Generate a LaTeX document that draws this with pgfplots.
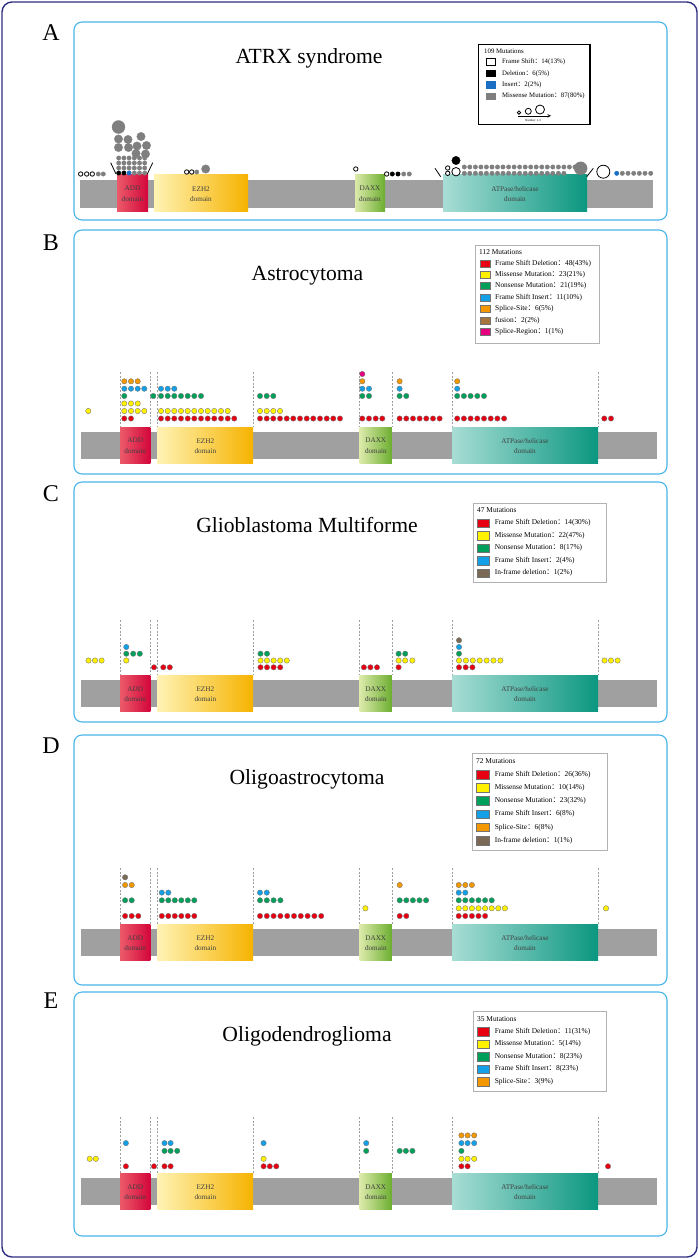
\documentclass[border=0pt]{standalone}
\usepackage{pgfplots}
\pgfplotsset{compat=1.18}
\usepackage{fontspec}
\setmainfont{Liberation Serif}
\newfontfamily\cjk{Noto Sans CJK SC}

\definecolor{cFSD}{HTML}{E60012}
\definecolor{cMIS}{HTML}{FFF100}
\definecolor{cNON}{HTML}{00A05A}
\definecolor{cFSI}{HTML}{14A0E6}
\definecolor{cSS}{HTML}{F39800}
\definecolor{cFUS}{HTML}{A8743E}
\definecolor{cSR}{HTML}{E4007F}
\definecolor{cIFD}{HTML}{7A6A55}
\definecolor{cIns}{HTML}{1A6FC4}
\definecolor{cMs}{HTML}{7F7F7F}
\definecolor{barGray}{HTML}{A0A0A0}
\definecolor{boxBlue}{HTML}{46B4EA}
\definecolor{frameNavy}{HTML}{2E2E82}
\definecolor{addL}{HTML}{EC5A6A}\definecolor{addR}{HTML}{D3063A}
\definecolor{ezhL}{HTML}{FFF3B4}\definecolor{ezhR}{HTML}{F6B300}
\definecolor{daxL}{HTML}{DCEAAA}\definecolor{daxR}{HTML}{6CAE30}
\definecolor{atpL}{HTML}{A8DDD5}\definecolor{atpM}{HTML}{1AAB98}\definecolor{atpR}{HTML}{0B9780}

\newcommand\cl{{\cjk ：}}
\newcommand\legfont{\fontsize{7.4}{9}\selectfont}
\newcommand\domfont{\fontsize{7.2}{10.7}\selectfont}
\newcommand\titfont{\fontsize{21.6}{24}\selectfont}
\newcommand\letfont{\fontsize{24}{28}\selectfont}

\begin{document}
\begin{tikzpicture}
\begin{axis}[
  at={(0,0)}, anchor=south west,
  scale only axis, width=699pt, height=1259pt,
  xmin=0, xmax=699, ymin=0, ymax=1259, y dir=reverse,
  hide axis, clip=false,
  scatter/classes={
    fsd={draw=black!55,fill=cFSD}, mis={draw=black!55,fill=cMIS},
    non={draw=black!55,fill=cNON}, fsi={draw=black!55,fill=cFSI},
    ss={draw=black!55,fill=cSS}, fus={draw=black!55,fill=cFUS},
    sr={draw=black!55,fill=cSR}, ifd={draw=black!55,fill=cIFD},
    fs={draw=black,fill=white,line width=0.8pt}, del={draw=black,fill=black},
    ins={draw=cIns,fill=cIns}, ms={draw=cMs,fill=cMs}},
  dots/.style={scatter, only marks, mark=*, scatter src=explicit symbolic,
    mark size=#1, mark options={line width=0.35pt}},
  dots/.default=2.7pt,
  swatch/.style={scatter, only marks, mark=square*, scatter src=explicit symbolic,
    mark size=#1, mark options={xscale=1.45, line width=0.4pt}},
  bar/.style={fill=barGray, draw=none},
  vline/.style={gray!75, line width=0.6pt, dash pattern=on 2pt off 1.6pt},
  panel/.style={draw=boxBlue, line width=1.1pt, rounded corners=8pt},
  legbox/.style={draw=black!30, line width=0.8pt, fill=white},
]

% outer frame and panel boxes
\addplot[draw=frameNavy, line width=1.4pt, rounded corners=10pt] coordinates {(2,2) (697,2) (697,1257) (2,1257)} -- cycle;
\addplot[panel] coordinates {(74,22) (667,22) (667,220) (74,220)} -- cycle;
\addplot[panel] coordinates {(74,230) (667,230) (667,474) (74,474)} -- cycle;
\addplot[panel] coordinates {(74,482) (667,482) (667,722) (74,722)} -- cycle;
\addplot[panel] coordinates {(74,735) (667,735) (667,985) (74,985)} -- cycle;
\addplot[panel] coordinates {(74,992) (667,992) (667,1236) (74,1236)} -- cycle;

\node[font=\letfont, anchor=base] at (axis cs:51,40) {A};
\node[font=\letfont, anchor=base] at (axis cs:51,250) {B};
\node[font=\letfont, anchor=base] at (axis cs:51,501) {C};
\node[font=\letfont, anchor=base] at (axis cs:51,753) {D};
\node[font=\letfont, anchor=base] at (axis cs:51,1008) {E};

%================ A: ATRX syndrome
\node[font=\titfont, anchor=base] at (axis cs:309,63) {ATRX syndrome};
\addplot[bar] coordinates {(80,180) (653,180) (653,207.5) (80,207.5)} -- cycle;
\addplot[draw=none, left color=addL, right color=addR] coordinates {(117,174) (148,174) (148,211) (117,211)} -- cycle;
\addplot[draw=none, left color=ezhL, right color=ezhR] coordinates {(154,174) (248,174) (248,211) (154,211)} -- cycle;
\addplot[draw=none, left color=daxL, right color=daxR] coordinates {(355,174) (385,174) (385,211) (355,211)} -- cycle;
\addplot[draw=none, left color=atpL, middle color=atpM, right color=atpR] coordinates {(443,174) (587,174) (587,211) (443,211)} -- cycle;
\node[font=\domfont, align=center, text=black!75] at (axis cs:132.5,194) {ADD\\domain};
\node[font=\domfont, align=center, text=black!75] at (axis cs:201,194) {EZH2\\domain};
\node[font=\domfont, align=center, text=black!75] at (axis cs:370,194) {DAXX\\domain};
\node[font=\domfont, align=center, text=black!75] at (axis cs:515,194) {ATPase/helicase\\domain};

\addplot[black, line width=0.8pt] coordinates {(110.7,162.7) (116,174)};
\addplot[black, line width=0.8pt] coordinates {(147.3,174) (152.7,162.7)};
\addplot[black, line width=0.8pt] coordinates {(435,168.3) (440.7,176.7)};
\addplot[black, line width=0.8pt] coordinates {(586.7,176.7) (593.3,168.3)};

% small dots
\addplot[dots=2.2pt] table[meta=c] {
x y c
80.7 174 fs
86.7 174 fs
92.3 174 fs
98.3 174 ms
103.3 174 ms
118.7 173 del
123.9 173 del
129.1 173 ins
134.3 173 ms
139.5 173 ms
144.7 173 ms
118.7 168 ms
123.9 168 ms
129.1 168 ms
134.3 168 ms
139.5 168 ms
144.7 168 ms
118.7 163 ms
123.9 163 ms
129.1 163 ms
134.3 163 ms
139.5 163 ms
144.7 163 ms
118.7 158 ms
123.9 158 ms
129.1 158 ms
134.3 158 ms
139.5 158 ms
144.7 158 ms
186.7 172 fs
191.7 172 fs
196.7 172 ms
355.8 169 fs
386.7 174 fs
392.3 174 del
398.0 174 del
403.7 174 ms
409.3 174 ms
447.7 168 fs
447.7 173.3 fs
464.3 167 ms
469.8 167 ms
475.4 167 ms
480.9 167 ms
486.4 167 ms
492.0 167 ms
497.5 167 ms
503.0 167 ms
508.6 167 ms
514.1 167 ms
519.6 167 ms
525.2 167 ms
530.7 167 ms
536.2 167 ms
541.8 167 ms
547.3 167 ms
552.8 167 ms
558.4 167 ms
563.9 167 ms
569.4 167 ms
575.0 167 ms
464.3 173.3 ms
469.8 173.3 ms
475.4 173.3 ms
480.9 173.3 ms
486.4 173.3 ms
492.0 173.3 ms
497.5 173.3 ms
503.0 173.3 ms
508.6 173.3 ms
514.1 173.3 ms
519.6 173.3 ms
525.2 173.3 ms
530.7 173.3 ms
536.2 173.3 ms
541.8 173.3 ms
547.3 173.3 ms
552.8 173.3 ms
558.4 173.3 ms
563.9 173.3 ms
616.7 173.3 ins
622.3 173.3 ms
628.0 173.3 ms
633.7 173.3 ms
639.3 173.3 ms
645.0 173.3 ms
650.7 173.3 ms
};
% medium dots
\addplot[dots=4.2pt] table[meta=c] {
x y c
136 153.5 ms
145.5 154 ms
118.5 147.5 ms
128.5 147.5 ms
137 146 ms
146.5 145.5 ms
118.5 139 ms
128 139.5 ms
141 136.5 ms
205.7 169 ms
456 171.7 fs
456 160.5 del
};
% large dots
\addplot[dots=6.5pt] table[meta=c] {
x y c
118.5 127 ms
580.7 168.3 ms
603.3 171.7 fs
};

% legend A
\addplot[draw=black, line width=1.3pt, fill=white] coordinates {(478.3,44.3) (590,44.3) (590,124.3) (478.3,124.3)} -- cycle;
\node[anchor=west, font=\fontsize{6.8}{8}\selectfont, inner sep=0pt] at (axis cs:484,51) {109 Mutations};
\addplot[swatch=3.2pt] table[meta=c] {
x y c
491 62 fs
491 73.4 del
491 84.8 ins
491 96.2 ms
};
\node[anchor=west, font=\fontsize{6.8}{8}\selectfont, inner sep=0pt] at (axis cs:502,62) {Frame Shift\cl14(13\%)};
\node[anchor=west, font=\fontsize{6.8}{8}\selectfont, inner sep=0pt] at (axis cs:502,73.4) {Deletion\cl6(5\%)};
\node[anchor=west, font=\fontsize{6.8}{8}\selectfont, inner sep=0pt] at (axis cs:502,84.8) {Insert\cl2(2\%)};
\node[anchor=west, font=\fontsize{6.8}{8}\selectfont, inner sep=0pt] at (axis cs:502,96.2) {Missense Mutation\cl87(80\%)};
\addplot[only marks, mark=o, mark size=1.7pt, black, line width=0.8pt] coordinates {(519,112.6)};
\addplot[only marks, mark=o, mark size=3pt, black, line width=0.8pt] coordinates {(528.3,111.3)};
\addplot[only marks, mark=o, mark size=4.5pt, black, line width=0.8pt] coordinates {(540,109.5)};
\addplot[black, line width=0.6pt, -stealth] coordinates {(517.7,115.8) (551,115.8)};
\node[font=\fontsize{3.2}{4}\selectfont, inner sep=0pt] at (axis cs:533,120.5) {Number 1-3};

%================ B: Astrocytoma
\node[font=\titfont, anchor=base] at (axis cs:307.5,280) {Astrocytoma};
\addplot[bar] coordinates {(81,432) (657,432) (657,459) (81,459)} -- cycle;
\pgfplotsinvokeforeach{120,150.4,157.4,253.2,359.7,391.9,452,598}{
  \addplot[vline] coordinates {(#1,372) (#1,427)};
}
\addplot[draw=none, left color=addL, right color=addR] coordinates {(120,427) (150.4,427) (150.4,463) (120,463)} -- cycle;
\addplot[draw=none, left color=ezhL, right color=ezhR] coordinates {(157.4,427) (253.2,427) (253.2,463) (157.4,463)} -- cycle;
\addplot[draw=none, left color=daxL, right color=daxR] coordinates {(359.7,427) (391.9,427) (391.9,463) (359.7,463)} -- cycle;
\addplot[draw=none, left color=atpL, middle color=atpM, right color=atpR] coordinates {(452,427) (598,427) (598,463) (452,463)} -- cycle;
\node[font=\domfont, align=center, text=black!75] at (axis cs:135.2,446) {ADD\\domain};
\node[font=\domfont, align=center, text=black!75] at (axis cs:205.3,446) {EZH2\\domain};
\node[font=\domfont, align=center, text=black!75] at (axis cs:375.8,446) {DAXX\\domain};
\node[font=\domfont, align=center, text=black!75] at (axis cs:525,446) {ATPase/helicase\\domain};

\addplot[dots] table[meta=c] {
x y c
88.3 411 mis
124.3 418.5 fsd
131.0 418.5 fsd
124.3 411 mis
131.0 411 mis
137.7 411 mis
144.3 411 mis
124.3 403.5 mis
131.0 403.5 mis
137.7 403.5 mis
124.3 396 non
124.3 388.7 fsi
131.0 388.7 fsi
137.7 388.7 fsi
144.3 388.7 fsi
124.3 381.3 ss
131.0 381.3 ss
137.7 381.3 ss
153.3 396 non
161.0 418.5 fsd
167.7 418.5 fsd
174.3 418.5 fsd
181.0 418.5 fsd
187.7 418.5 fsd
194.3 418.5 fsd
201.0 418.5 fsd
207.7 418.5 fsd
214.3 418.5 fsd
221.0 418.5 fsd
227.7 418.5 fsd
234.3 418.5 fsd
161.0 411 mis
167.7 411 mis
174.3 411 mis
181.0 411 mis
187.7 411 mis
194.3 411 mis
201.0 411 mis
207.7 411 mis
214.3 411 mis
221.0 411 mis
227.7 411 mis
161.0 396 non
167.7 396 non
174.3 396 non
181.0 396 non
187.7 396 non
194.3 396 non
201.0 396 non
161.0 388.7 fsi
167.7 388.7 fsi
174.3 388.7 fsi
260.0 418.5 fsd
266.7 418.5 fsd
273.3 418.5 fsd
280.0 418.5 fsd
286.7 418.5 fsd
293.3 418.5 fsd
300.0 418.5 fsd
306.7 418.5 fsd
313.3 418.5 fsd
320.0 418.5 fsd
326.7 418.5 fsd
333.3 418.5 fsd
340.0 418.5 fsd
260.0 411 mis
266.7 411 mis
273.3 411 mis
280.0 411 mis
260.0 396 non
266.7 396 non
273.3 396 non
362.3 418.5 fsd
369.0 418.5 fsd
375.7 418.5 fsd
382.3 418.5 fsd
362.3 396 non
369.0 396 non
362.3 388.7 fsi
369.0 388.7 fsi
362.3 381.3 ss
362.3 374 sr
399.6 418.5 fsd
406.3 418.5 fsd
413.0 418.5 fsd
419.6 418.5 fsd
426.3 418.5 fsd
433.0 418.5 fsd
439.6 418.5 fsd
399.6 396 non
406.3 396 non
399.6 388.7 fsi
399.6 381.3 ss
457.2 418.5 fsd
463.9 418.5 fsd
470.6 418.5 fsd
477.3 418.5 fsd
484.0 418.5 fsd
490.7 418.5 fsd
497.4 418.5 fsd
504.1 418.5 fsd
457.2 396 non
463.9 396 non
470.6 396 non
477.3 396 non
484.0 396 non
457.2 388.7 fsi
457.2 381.3 ss
604.3 418.5 fsd
611.0 418.5 fsd
};

% legend B
\addplot[legbox] coordinates {(475,245) (599,245) (599,343) (475,343)} -- cycle;
\node[anchor=west, font=\legfont, inner sep=0pt] at (axis cs:479,252) {112 Mutations};
\addplot[swatch=3.5pt] table[meta=c] {
x y c
485 263.3 fsd
485 274.7 mis
485 286 non
485 297.3 fsi
485 309 ss
485 320.5 fus
485 332 sr
};
\node[anchor=west, font=\legfont, inner sep=0pt] at (axis cs:495,263.3) {Frame Shift Deletion\cl48(43\%)};
\node[anchor=west, font=\legfont, inner sep=0pt] at (axis cs:495,274.7) {Missense Mutation\cl23(21\%)};
\node[anchor=west, font=\legfont, inner sep=0pt] at (axis cs:495,286) {Nonsense Mutation\cl21(19\%)};
\node[anchor=west, font=\legfont, inner sep=0pt] at (axis cs:495,297.3) {Frame Shift Insert\cl11(10\%)};
\node[anchor=west, font=\legfont, inner sep=0pt] at (axis cs:495,309) {Splice-Site\cl6(5\%)};
\node[anchor=west, font=\legfont, inner sep=0pt] at (axis cs:495,320.5) {fusion\cl2(2\%)};
\node[anchor=west, font=\legfont, inner sep=0pt] at (axis cs:495,332) {Splice-Region\cl1(1\%)};

%================ C: Glioblastoma Multiforme
\node[font=\titfont, anchor=base] at (axis cs:307,532) {Glioblastoma Multiforme};
\addplot[bar] coordinates {(81,680) (657,680) (657,707) (81,707)} -- cycle;
\pgfplotsinvokeforeach{120,150.4,157.4,253.2,359.7,391.9,452,598}{
  \addplot[vline] coordinates {(#1,620) (#1,675)};
}
\addplot[draw=none, left color=addL, right color=addR] coordinates {(120,675) (150.4,675) (150.4,711) (120,711)} -- cycle;
\addplot[draw=none, left color=ezhL, right color=ezhR] coordinates {(157.4,675) (253.2,675) (253.2,711) (157.4,711)} -- cycle;
\addplot[draw=none, left color=daxL, right color=daxR] coordinates {(359.7,675) (391.9,675) (391.9,711) (359.7,711)} -- cycle;
\addplot[draw=none, left color=atpL, middle color=atpM, right color=atpR] coordinates {(452,675) (598,675) (598,711) (452,711)} -- cycle;
\node[font=\domfont, align=center, text=black!75] at (axis cs:135.2,694) {ADD\\domain};
\node[font=\domfont, align=center, text=black!75] at (axis cs:205.3,694) {EZH2\\domain};
\node[font=\domfont, align=center, text=black!75] at (axis cs:375.8,694) {DAXX\\domain};
\node[font=\domfont, align=center, text=black!75] at (axis cs:525,694) {ATPase/helicase\\domain};

\addplot[dots] table[meta=c] {
x y c
88.5 660.5 mis
95.0 660.5 mis
101.6 660.5 mis
126.3 660.5 mis
126.3 653.7 non
133.2 653.7 non
139.8 653.7 non
126.3 647 fsi
154.0 667.3 fsd
163.3 667.3 fsd
169.8 667.3 fsd
260.5 667.3 fsd
267.0 667.3 fsd
273.6 667.3 fsd
280.2 667.3 fsd
260.5 660.5 mis
267.0 660.5 mis
273.6 660.5 mis
280.2 660.5 mis
286.8 660.5 mis
260.5 653.7 non
267.0 653.7 non
363.9 667.3 fsd
370.4 667.3 fsd
377.0 667.3 fsd
398.6 667.3 fsd
398.6 660.5 mis
405.2 660.5 mis
412.4 660.5 mis
398.6 653.7 non
405.2 653.7 non
459.0 667.3 fsd
465.7 667.3 fsd
472.4 667.3 fsd
459.0 660.5 mis
465.9 660.5 mis
472.8 660.5 mis
479.7 660.5 mis
486.6 660.5 mis
493.5 660.5 mis
500.4 660.5 mis
459.0 653.7 non
459.0 647 fsi
459.0 640.3 ifd
604.5 660.5 mis
611.0 660.5 mis
617.6 660.5 mis
};

% legend C
\addplot[legbox] coordinates {(473.4,503) (606,503) (606,582.5) (473.4,582.5)} -- cycle;
\node[anchor=west, font=\legfont, inner sep=0pt] at (axis cs:477,510) {47 Mutations};
\addplot[swatch=4.3pt] table[meta=c] {
x y c
483 523 fsd
483 535.5 mis
483 548 non
483 560.5 fsi
483 573 ifd
};
\node[anchor=west, font=\legfont, inner sep=0pt] at (axis cs:494.6,523) {Frame Shift Deletion\cl14(30\%)};
\node[anchor=west, font=\legfont, inner sep=0pt] at (axis cs:494.6,535.5) {Missense Mutation\cl22(47\%)};
\node[anchor=west, font=\legfont, inner sep=0pt] at (axis cs:494.6,548) {Nonsense Mutation\cl8(17\%)};
\node[anchor=west, font=\legfont, inner sep=0pt] at (axis cs:494.6,560.5) {Frame Shift Insert\cl2(4\%)};
\node[anchor=west, font=\legfont, inner sep=0pt] at (axis cs:494.6,573) {In-frame deletion\cl1(2\%)};

%================ D: Oligoastrocytoma
\node[font=\titfont, anchor=base] at (axis cs:307,784) {Oligoastrocytoma};
\addplot[bar] coordinates {(81,929) (657,929) (657,956) (81,956)} -- cycle;
\pgfplotsinvokeforeach{120,150.4,157.4,253.2,359.7,391.9,452,598}{
  \addplot[vline] coordinates {(#1,868) (#1,924)};
}
\addplot[draw=none, left color=addL, right color=addR] coordinates {(120,924) (150.4,924) (150.4,960) (120,960)} -- cycle;
\addplot[draw=none, left color=ezhL, right color=ezhR] coordinates {(157.4,924) (253.2,924) (253.2,960) (157.4,960)} -- cycle;
\addplot[draw=none, left color=daxL, right color=daxR] coordinates {(359.7,924) (391.9,924) (391.9,960) (359.7,960)} -- cycle;
\addplot[draw=none, left color=atpL, middle color=atpM, right color=atpR] coordinates {(452,924) (598,924) (598,960) (452,960)} -- cycle;
\node[font=\domfont, align=center, text=black!75] at (axis cs:135.2,943) {ADD\\domain};
\node[font=\domfont, align=center, text=black!75] at (axis cs:205.3,943) {EZH2\\domain};
\node[font=\domfont, align=center, text=black!75] at (axis cs:375.8,943) {DAXX\\domain};
\node[font=\domfont, align=center, text=black!75] at (axis cs:525,943) {ATPase/helicase\\domain};

\addplot[dots] table[meta=c] {
x y c
125.1 916 fsd
131.7 916 fsd
138.3 916 fsd
125.1 900.3 non
131.7 900.3 non
125.1 885 ss
131.7 885 ss
125.1 877.3 ifd
161.8 916 fsd
168.3 916 fsd
174.8 916 fsd
181.3 916 fsd
187.8 916 fsd
194.3 916 fsd
161.8 900.3 non
168.3 900.3 non
174.8 900.3 non
181.3 900.3 non
187.8 900.3 non
194.3 900.3 non
161.8 892.6 fsi
168.3 892.6 fsi
260.0 916 fsd
266.8 916 fsd
273.6 916 fsd
280.4 916 fsd
287.2 916 fsd
294.0 916 fsd
300.8 916 fsd
307.6 916 fsd
314.4 916 fsd
321.2 916 fsd
260.0 900.3 non
266.8 900.3 non
273.6 900.3 non
280.4 900.3 non
260.0 892.6 fsi
266.8 892.6 fsi
365.4 908.3 mis
399.7 916 fsd
406.3 916 fsd
399.7 900.3 non
406.3 900.3 non
412.9 900.3 non
419.5 900.3 non
426.1 900.3 non
399.7 885 ss
458.7 916 fsd
465.3 916 fsd
471.9 916 fsd
478.5 916 fsd
485.1 916 fsd
458.7 908.3 mis
465.3 908.3 mis
471.9 908.3 mis
478.5 908.3 mis
485.1 908.3 mis
491.7 908.3 mis
498.3 908.3 mis
504.9 908.3 mis
458.7 900.3 non
465.3 900.3 non
471.9 900.3 non
478.5 900.3 non
485.1 900.3 non
491.7 900.3 non
458.7 892.6 fsi
465.3 892.6 fsi
458.7 885 ss
465.3 885 ss
471.9 885 ss
606.0 908.3 mis
};

% legend D
\addplot[legbox] coordinates {(472.2,753) (607.2,753) (607.2,850) (472.2,850)} -- cycle;
\node[anchor=west, font=\legfont, inner sep=0pt] at (axis cs:476,761) {72 Mutations};
\addplot[swatch=4.3pt] table[meta=c] {
x y c
482.5 774.5 fsd
482.5 787.7 mis
482.5 800.9 non
482.5 814.1 fsi
482.5 827.3 ss
482.5 840.5 ifd
};
\node[anchor=west, font=\legfont, inner sep=0pt] at (axis cs:494.6,774.5) {Frame Shift Deletion\cl26(36\%)};
\node[anchor=west, font=\legfont, inner sep=0pt] at (axis cs:494.6,787.7) {Missense Mutation\cl10(14\%)};
\node[anchor=west, font=\legfont, inner sep=0pt] at (axis cs:494.6,800.9) {Nonsense Mutation\cl23(32\%)};
\node[anchor=west, font=\legfont, inner sep=0pt] at (axis cs:494.6,814.1) {Frame Shift Insert\cl6(8\%)};
\node[anchor=west, font=\legfont, inner sep=0pt] at (axis cs:494.6,827.3) {Splice-Site\cl6(8\%)};
\node[anchor=west, font=\legfont, inner sep=0pt] at (axis cs:494.6,840.5) {In-frame deletion\cl1(1\%)};

%================ E: Oligodendroglioma
\node[font=\titfont, anchor=base] at (axis cs:307,1041) {Oligodendroglioma};
\addplot[bar] coordinates {(81,1178) (657,1178) (657,1205) (81,1205)} -- cycle;
\pgfplotsinvokeforeach{120,150.4,157.4,253.2,359.7,391.9,452,598}{
  \addplot[vline] coordinates {(#1,1117) (#1,1173)};
}
\addplot[draw=none, left color=addL, right color=addR] coordinates {(120,1173) (150.4,1173) (150.4,1209) (120,1209)} -- cycle;
\addplot[draw=none, left color=ezhL, right color=ezhR] coordinates {(157.4,1173) (253.2,1173) (253.2,1209) (157.4,1209)} -- cycle;
\addplot[draw=none, left color=daxL, right color=daxR] coordinates {(359.7,1173) (391.9,1173) (391.9,1209) (359.7,1209)} -- cycle;
\addplot[draw=none, left color=atpL, middle color=atpM, right color=atpR] coordinates {(452,1173) (598,1173) (598,1209) (452,1209)} -- cycle;
\node[font=\domfont, align=center, text=black!75] at (axis cs:135.2,1192) {ADD\\domain};
\node[font=\domfont, align=center, text=black!75] at (axis cs:205.3,1192) {EZH2\\domain};
\node[font=\domfont, align=center, text=black!75] at (axis cs:375.8,1192) {DAXX\\domain};
\node[font=\domfont, align=center, text=black!75] at (axis cs:525,1192) {ATPase/helicase\\domain};

\addplot[dots] table[meta=c] {
x y c
89.7 1158.8 mis
95.8 1158.8 mis
125.9 1166.3 fsd
125.9 1143.1 fsi
154.0 1166.3 fsd
164.5 1166.3 fsd
170.6 1166.3 fsd
164.5 1150.9 non
170.6 1150.9 non
177.2 1150.9 non
164.5 1143.1 fsi
170.6 1143.1 fsi
263.6 1166.3 fsd
269.8 1166.3 fsd
276.3 1166.3 fsd
263.6 1158.8 mis
263.6 1143.1 fsi
366.2 1150.9 non
366.2 1143.1 fsi
399.7 1150.9 non
405.9 1150.9 non
412.4 1150.9 non
461.4 1166.3 fsd
467.6 1166.3 fsd
461.4 1158.8 mis
467.6 1158.8 mis
474.2 1158.8 mis
461.4 1150.9 non
461.4 1143.1 fsi
467.6 1143.1 fsi
474.2 1143.1 fsi
461.4 1135.4 ss
467.6 1135.4 ss
474.2 1135.4 ss
608.0 1166.3 fsd
};

% legend E
\addplot[legbox] coordinates {(473.4,1011) (606.4,1011) (606.4,1091) (473.4,1091)} -- cycle;
\node[anchor=west, font=\legfont, inner sep=0pt] at (axis cs:477,1019) {35 Mutations};
\addplot[swatch=4.3pt] table[meta=c] {
x y c
483 1031.5 fsd
483 1044 mis
483 1056.5 non
483 1069 fsi
483 1081.7 ss
};
\node[anchor=west, font=\legfont, inner sep=0pt] at (axis cs:494.6,1031.5) {Frame Shift Deletion\cl11(31\%)};
\node[anchor=west, font=\legfont, inner sep=0pt] at (axis cs:494.6,1044) {Missense Mutation\cl5(14\%)};
\node[anchor=west, font=\legfont, inner sep=0pt] at (axis cs:494.6,1056.5) {Nonsense Mutation\cl8(23\%)};
\node[anchor=west, font=\legfont, inner sep=0pt] at (axis cs:494.6,1069) {Frame Shift Insert\cl8(23\%)};
\node[anchor=west, font=\legfont, inner sep=0pt] at (axis cs:494.6,1081.7) {Splice-Site\cl3(9\%)};

\end{axis}
\path (0,0) rectangle (699pt,1259pt);
\end{tikzpicture}
\end{document}
